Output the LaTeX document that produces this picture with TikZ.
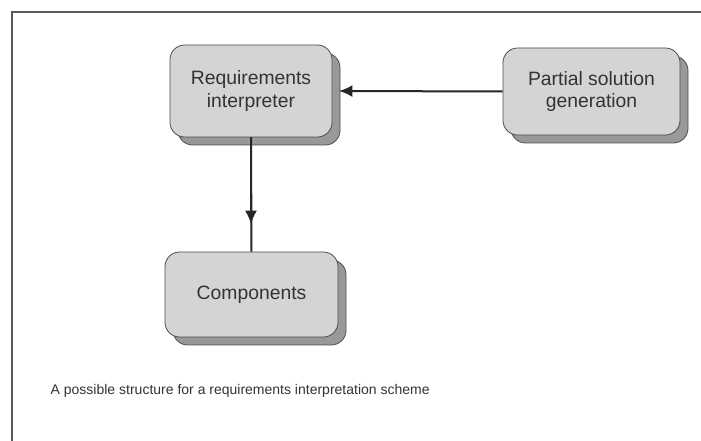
\documentclass[tikz,border=0pt]{standalone}
\usepackage{fontspec}
\setmainfont{Liberation Sans}
\usetikzlibrary{shadows,arrows.meta}

\begin{document}
\begin{tikzpicture}[x=0.75pt,y=-0.75pt,
	block/.style={draw=black!70,fill=black!17,rounded corners=11pt,align=center,
		text=black!80,font=\fontsize{14.5}{17}\selectfont,line width=0.6pt,
		drop shadow={shadow xshift=6pt,shadow yshift=-6pt,opacity=1,fill=black!40,draw=black!70}},
	link/.style={line width=1.5pt,black!85}]
	\useasboundingbox (0,0) rectangle (701,441);
	\draw[black!65,line width=1.2pt] (12,441) -- (12,12) -- (701,12);

	\node[block,minimum width=121.5pt,minimum height=69pt] (req) at (251,91) {Requirements\\interpreter};
	\node[block,minimum width=132.75pt,minimum height=65.25pt] (part) at (591.5,91.5) {Partial solution\\generation};
	\node[block,minimum width=129.75pt,minimum height=63.75pt] (comp) at (251.5,294.5) {Components};

	\coordinate (tip) at (251,224);
	\draw[link,-{Latex[length=10pt,width=9pt]}] (part.west) -- ([xshift=5pt]req.east);
	\draw[link] (req.south) -- (comp.north);
	\draw[link,-{Latex[length=10pt,width=9pt]}] (req.south) -- (tip);

	\node[anchor=west,text=black!80,font=\fontsize{10.5}{12}\selectfont] (cap) at (46,391)
		{A possible structure for a requirements interpretation scheme};
\end{tikzpicture}
\end{document}
